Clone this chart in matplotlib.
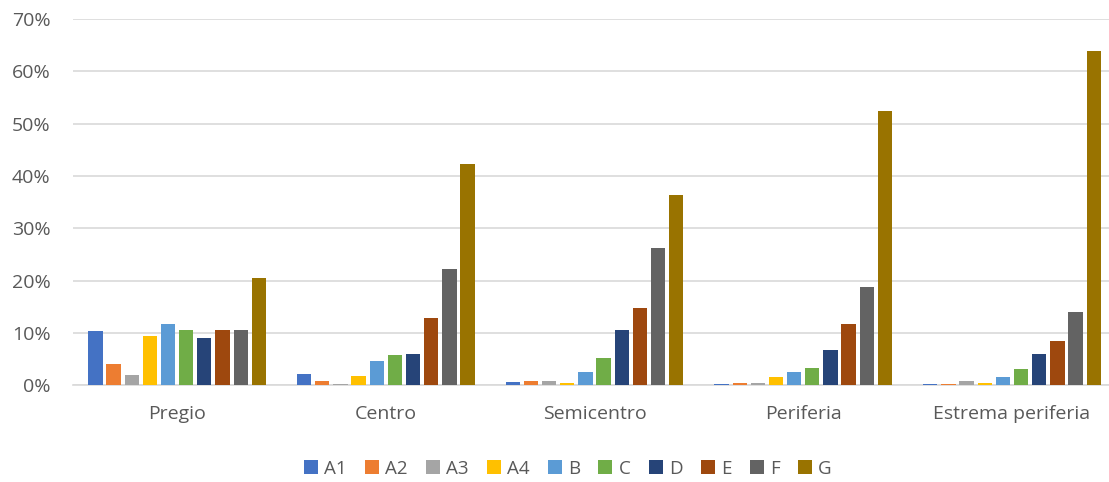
import matplotlib
matplotlib.use("Agg")
import matplotlib.pyplot as plt
import numpy as np

categories = ["Pregio", "Centro", "Semicentro", "Periferia", "Estrema periferia"]
series_names = ["A1", "A2", "A3", "A4", "B", "C", "D", "E", "F", "G"]
A1 = [10.4, 2.1, 0.6, 0.3, 0.3]
A2 = [4.1, 0.8, 0.8, 0.5, 0.3]
A3 = [1.9, 0.3, 0.8, 0.5, 0.8]
A4 = [9.4, 1.8, 0.5, 1.6, 0.5]
B = [11.7, 4.6, 2.6, 2.6, 1.6]
C = [10.6, 5.8, 5.1, 3.3, 3.1]
D = [9.1, 6.0, 10.6, 6.8, 5.9]
E = [10.6, 12.8, 14.7, 11.6, 8.4]
F = [10.6, 22.2, 26.3, 18.7, 14.0]
G = [20.4, 42.2, 36.4, 52.5, 63.8]
series = [A1, A2, A3, A4, B, C, D, E, F, G]
colors = ["#4472C4", "#ED7D31", "#A5A5A5", "#FFC000", "#5B9BD5",
          "#70AD47", "#264478", "#9E480E", "#636363", "#997300"]
yticks = [0, 10, 20, 30, 40, 50, 60, 70]

plt.rcParams['font.family'] = ['Open Sans', 'DejaVu Sans']
fig = plt.figure(figsize=(11.09, 4.82), dpi=100)
ax = fig.add_axes([0.0656, 0.201, 0.941, 0.7596])

x = np.arange(len(categories))
step = 0.087
width = 0.0685
for i, (name, vals, c) in enumerate(zip(series_names, series, colors)):
    offs = (i - 4.5) * step
    ax.bar(x + offs, vals, width=width, color=c, label=name, zorder=3)

ax.set_xlim(-0.5, len(categories) - 0.5)
ax.set_ylim(0, 70)
ax.set_yticks(yticks)
ax.set_yticklabels([f"{v}%" for v in yticks])
ax.set_xticks(x)
ax.set_xticklabels(categories)
ax.grid(axis='y', color='#D9D9D9', linewidth=1.2, zorder=0)
for s in ['top', 'right', 'left']:
    ax.spines[s].set_visible(False)
ax.spines['bottom'].set_color('#D9D9D9')
ax.spines['bottom'].set_linewidth(1.2)
ax.tick_params(axis='both', length=0, labelsize=14, labelcolor='#595959')
ax.tick_params(axis='y', pad=16)
ax.tick_params(axis='x', pad=14)

leg = fig.legend(loc='center', bbox_to_anchor=(0.512, 0.028), ncol=10, frameon=False,
                 fontsize=13.5, handlelength=0.75, handleheight=0.75, handletextpad=0.35,
                 columnspacing=0.95)
for t in leg.get_texts():
    t.set_color('#595959')

fig.savefig("out.png", dpi=100)
